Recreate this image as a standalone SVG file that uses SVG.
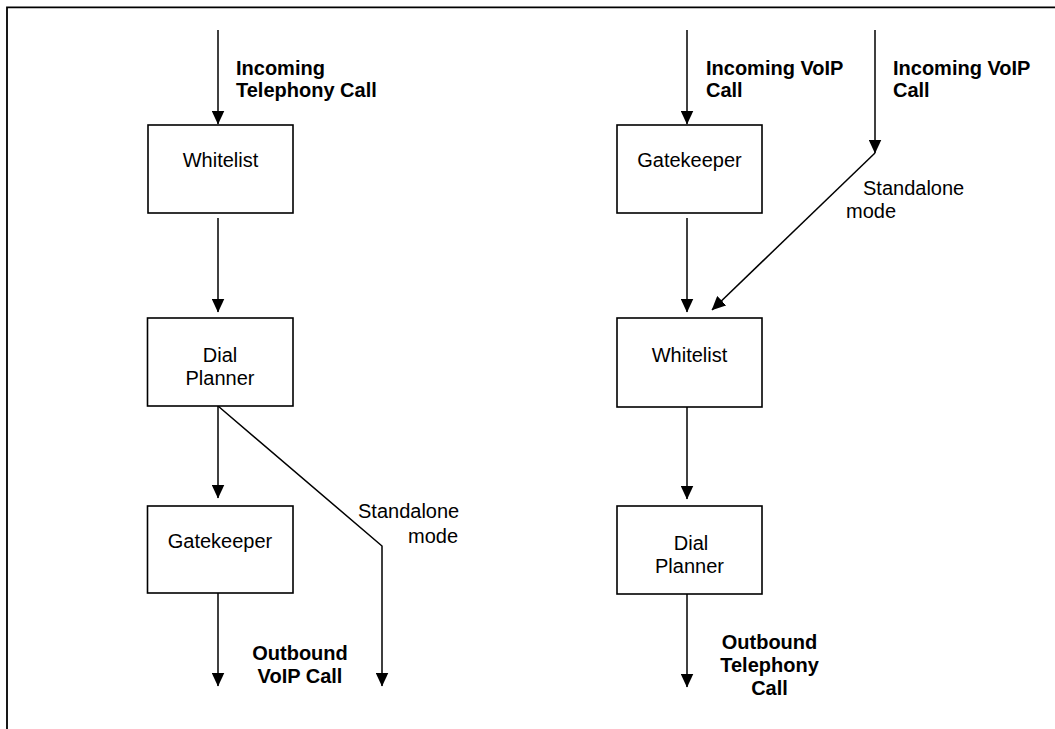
<svg xmlns="http://www.w3.org/2000/svg" width="1055" height="729" viewBox="0 0 1055 729">
<style>
.box{fill:#fff;stroke:#000;stroke-width:1.6}
.ln{fill:none;stroke:#000;stroke-width:1.5}
.t{font-family:"Liberation Sans",Arial,sans-serif;font-size:20px;fill:#000}
.b{font-family:"Liberation Sans",Arial,sans-serif;font-size:20px;font-weight:bold;fill:#000}
.m{text-anchor:middle}
</style>
<defs>
<marker id="ah" viewBox="0 0 14 13" refX="13.5" refY="6.5" markerWidth="14" markerHeight="13" markerUnits="userSpaceOnUse" orient="auto">
<path d="M0,0 L14,6.5 L0,13 Z" fill="#000"/>
</marker>
</defs>
<rect width="1055" height="729" fill="#fff"/>
<path d="M7,729 V7.3 H1055" fill="none" stroke="#000" stroke-width="1.8"/>

<g id="connectors">
<path class="ln" d="M218,30 V124" marker-end="url(#ah)"/>
<path class="ln" d="M218,218 V312" marker-end="url(#ah)"/>
<path class="ln" d="M218,406 V498" marker-end="url(#ah)"/>
<path class="ln" d="M218,593 V686" marker-end="url(#ah)"/>
<path class="ln" d="M218,406 L382,546 V686" marker-end="url(#ah)"/>
<path class="ln" d="M687,30 V124" marker-end="url(#ah)"/>
<path class="ln" d="M875,30 V153" marker-end="url(#ah)"/>
<path class="ln" d="M687,218 V312" marker-end="url(#ah)"/>
<path class="ln" d="M875,153 L712,310" marker-end="url(#ah)"/>
<path class="ln" d="M687,407 V499" marker-end="url(#ah)"/>
<path class="ln" d="M687,594 V687" marker-end="url(#ah)"/>
</g>

<g id="labels">
<text class="b" x="236" y="75">Incoming</text>
<text class="b" x="236" y="97">Telephony Call</text>
<text class="t" x="358" y="518">Standalone</text>
<text class="t" x="458" y="543" text-anchor="end">mode</text>
<text class="b m" x="300" y="660">Outbound</text>
<text class="b m" x="300" y="683">VoIP Call</text>
<text class="b" x="706" y="75">Incoming VoIP</text>
<text class="b" x="706" y="97">Call</text>
<text class="b" x="893" y="75">Incoming VoIP</text>
<text class="b" x="893" y="97">Call</text>
<text class="t" x="863" y="195">Standalone</text>
<text class="t" x="846" y="218">mode</text>
<text class="b m" x="769.5" y="649">Outbound</text>
<text class="b m" x="769.5" y="672">Telephony</text>
<text class="b m" x="769.5" y="695">Call</text>
</g>

<g id="left-whitelist">
<rect class="box" x="148" y="125" width="145" height="88"/>
<text class="t m" x="220.5" y="167">Whitelist</text>
</g>
<g id="left-dialplanner">
<rect class="box" x="147.5" y="318" width="145.5" height="88"/>
<text class="t m" x="220" y="362">Dial</text>
<text class="t m" x="220" y="385">Planner</text>
</g>
<g id="left-gatekeeper">
<rect class="box" x="147.5" y="506" width="145.5" height="87"/>
<text class="t m" x="220" y="548">Gatekeeper</text>
</g>
<g id="right-gatekeeper">
<rect class="box" x="617" y="125" width="145" height="88"/>
<text class="t m" x="689.5" y="167">Gatekeeper</text>
</g>
<g id="right-whitelist">
<rect class="box" x="617" y="318" width="145" height="89"/>
<text class="t m" x="689.5" y="362">Whitelist</text>
</g>
<g id="right-dialplanner">
<rect class="box" x="617" y="506" width="145" height="88"/>
<text class="t m" x="691" y="550">Dial</text>
<text class="t m" x="689.5" y="573">Planner</text>
</g>
</svg>
